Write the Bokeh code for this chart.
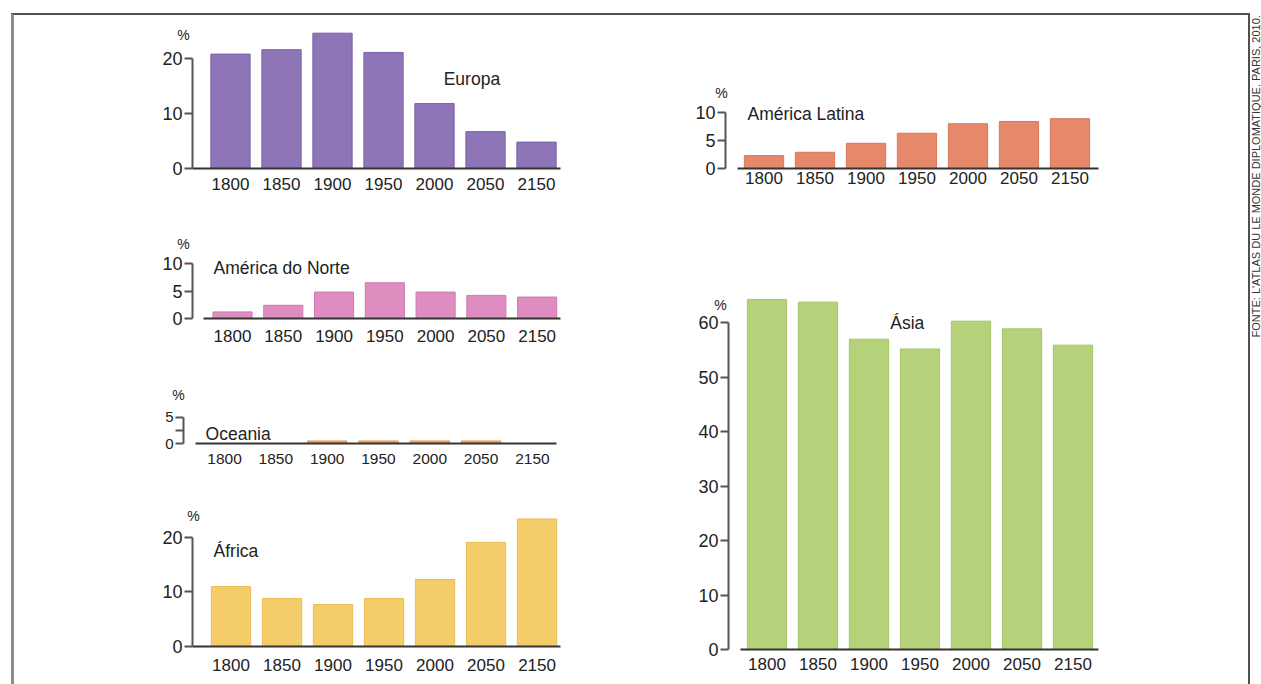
from math import pi
from bokeh.plotting import figure
from bokeh.models import FixedTicker, Label, LinearAxis, Range1d
from bokeh.layouts import row, column
from bokeh.embed import file_html
from bokeh.resources import INLINE

# ---------------- data ----------------
years = ["1800", "1850", "1900", "1950", "2000", "2050", "2150"]
europa = [20.8, 21.6, 24.6, 21.1, 11.8, 6.7, 4.8]
america_norte = [1.2, 2.4, 4.8, 6.5, 4.8, 4.2, 3.9]
oceania = [0.0, 0.0, 0.5, 0.5, 0.5, 0.5, 0.0]
africa = [11.0, 8.8, 7.7, 8.8, 12.3, 19.1, 23.4]
america_latina = [2.3, 2.9, 4.5, 6.3, 8.0, 8.4, 8.9]
asia = [64.3, 63.8, 57.0, 55.2, 60.3, 58.9, 55.9]

ticks_europa = [0, 10, 20]
ticks_norte = [0, 5, 10]
ticks_oceania = [0, 2.5, 5]
ticks_africa = [0, 10, 20]
ticks_latina = [0, 5, 10]
ticks_asia = [0, 10, 20, 30, 40, 50, 60]

source_text = "FONTE: L'ATLAS DU LE MONDE DIPLOMATIQUE. PARIS, 2010."

FONT = "Liberation Sans"
TXT = "#222222"


def chart(values, yticks, fill, edge, w, h, borders, xr, xb0, yend,
          std, title, tpos, talign, ppos, xfs="17px", yfs="18px", hide_labels=()):
    l, r, t, b = borders
    p = figure(width=w, height=h, x_range=Range1d(*xr), y_range=Range1d(0, yend),
               output_backend="svg", toolbar_location=None,
               x_axis_type=None, y_axis_type=None,
               min_border_left=l, min_border_right=r,
               min_border_top=t, min_border_bottom=b)
    if "frame_align" in p.properties():
        p.frame_align = False
    p.outline_line_color = None
    p.grid.visible = False
    p.background_fill_color = "white"
    p.border_fill_color = "white"
    idx = list(range(len(years)))
    p.vbar(x=idx, top=values, bottom=0, width=0.77,
           fill_color=fill, line_color=edge, line_width=1)

    xa = LinearAxis(ticker=FixedTicker(ticks=idx),
                    major_label_overrides={i: y for i, y in enumerate(years)},
                    bounds=(xb0, xr[1]))
    xa.major_tick_out = 0
    xa.major_tick_in = 0
    xa.minor_tick_line_color = None
    xa.axis_line_color = "#333333"
    xa.axis_line_width = 2
    xa.major_label_standoff = std
    xa.major_label_text_font = FONT
    xa.major_label_text_font_size = xfs
    xa.major_label_text_color = TXT
    p.add_layout(xa, "below")

    over = {v: ("" if v in hide_labels else str(v)) for v in yticks}
    ya = LinearAxis(ticker=FixedTicker(ticks=yticks), bounds=(0, yticks[-1]),
                    major_label_overrides=over)
    ya.major_tick_out = 8
    ya.major_tick_in = 0
    ya.minor_tick_line_color = None
    ya.axis_line_color = "#555555"
    ya.axis_line_width = 2
    ya.major_tick_line_color = "#555555"
    ya.major_tick_line_width = 2
    ya.major_label_standoff = 2
    ya.major_label_text_font = FONT
    ya.major_label_text_font_size = yfs
    ya.major_label_text_color = TXT
    p.add_layout(ya, "left")

    # "%" sits left of the frame: keep it in the side panel so it is not clipped
    p.add_layout(Label(x=ppos[0], y=ppos[1], text="%", text_font=FONT,
                       text_font_size="14px", text_color=TXT,
                       text_align="center", text_baseline="middle"), "left")
    p.add_layout(Label(x=tpos[0], y=tpos[1], text=title, text_font=FONT,
                       text_font_size="17.5px", text_color=TXT,
                       text_align=talign, text_baseline="middle"))
    return p


p_eur = chart(europa, ticks_europa, "#8d75b8", "#7a60a6", 606, 195,
              (178, 60, 13, 42), (-0.745, 6.47), -0.745, 25.45, 9,
              "Europa", (4.18, 16.2), "left", (-0.92, 24.2))
p_nor = chart(america_norte, ticks_norte, "#df8dc1", "#cf78b0", 606, 140,
              (178, 60, 42, 32), (-0.788, 6.46), -0.571, 12.0, 11,
              "América do Norte", (-0.374, 9.27), "left", (-0.966, 13.6))
p_oce = chart(oceania, ticks_oceania, "#e9a265", "#e9a265", 606, 130,
              (169, 64, 62, 37), (-0.8, 6.47), -0.565, 5.96, 10,
              "Oceania", (-0.37, 1.92), "left", (-0.897, 9.42),
              xfs="15.5px", yfs="15px", hide_labels=(2.5,))
p_afr = chart(africa, ticks_africa, "#f4cc6a", "#e9bd55", 606, 204,
              (178, 60, 30, 38), (-0.755, 6.46), -0.755, 24.95, 12,
              "África", (-0.343, 17.6), "left", (-0.735, 24.0))
p_lat = chart(america_latina, ticks_latina, "#e5896a", "#d8785a", 628, 225,
              (105, 150, 80, 72), (-0.755, 6.56), -0.52, 13.04, 3,
              "América Latina", (-0.324, 9.82), "left", (-0.833, 13.57))
p_asi = chart(asia, ticks_asia, "#b5d27b", "#a5c56a", 628, 444,
              (108, 150, 50, 35), (-0.755, 6.5), -0.52, 65.94, 8,
              "Ásia", (2.75, 59.9), "center", (-0.912, 63.2))

left_col = column(p_eur, p_nor, p_oce, p_afr, spacing=0)
right_col = column(p_lat, p_asi, spacing=0)
charts = row(left_col, right_col, spacing=0, margin=(13, 0, 0, 11),
             styles={"border-top": "2px solid #505050",
                     "border-left": "3px solid #8c8c8c",
                     "border-right": "2px solid #505050"})

src = figure(width=11, height=684, x_range=Range1d(0, 11), y_range=Range1d(0, 684),
             output_backend="svg", toolbar_location=None,
             x_axis_type=None, y_axis_type=None, min_border=0)
src.outline_line_color = None
src.grid.visible = False
src.add_layout(Label(x=5.5, y=347, text=source_text, angle=pi / 2,
                     text_font=FONT, text_font_size="11px", text_color="#333333",
                     text_align="left", text_baseline="middle"))

layout = row(charts, src, spacing=0)

open("out.html", "w").write(file_html(layout, INLINE))
